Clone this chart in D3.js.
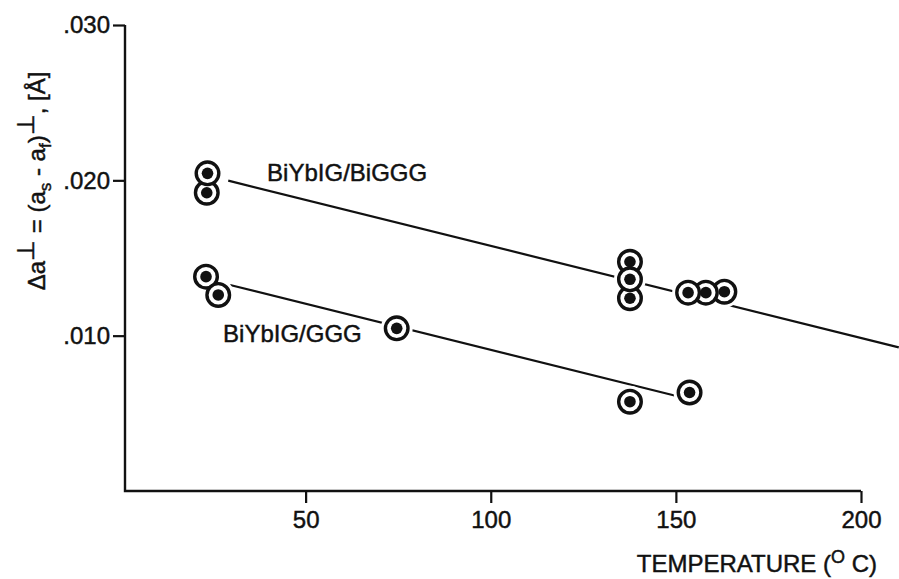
<!DOCTYPE html>
<html>
<head>
<meta charset="utf-8">
<script src="https://cdn.jsdelivr.net/npm/d3@7"></script>
<style>
  body { margin: 0; background: #fff; }
  svg { display: block; font-family: "Liberation Sans", Arial, Helvetica, sans-serif; }
  svg text { stroke: #111; stroke-width: 0.45px; }
</style>
</head>
<body>
<div id="chart"></div>
<script>
// temperature (deg C) and Δa⊥ (Å)
const bigggTemp = [23.3, 23.5, 137.6, 137.6, 137.6, 163.1, 158.1, 153.3];
const bigggDa   = [0.01920, 0.02045, 0.01476, 0.01241, 0.01363, 0.01283, 0.01277, 0.01277];
const gggTemp   = [23.1, 26.4, 74.6, 137.6, 153.7];
const gggDa     = [0.01380, 0.01262, 0.01047, 0.00575, 0.00634];

// hand drawn fit lines (end points)
const bigggFitTemp = [29.1, 210.2];
const bigggFitDa   = [0.01998, 0.00925];
const gggFitTemp   = [29.6, 153.7];
const gggFitDa     = [0.01326, 0.00591];

const seriesNames = ['BiYbIG/BiGGG', 'BiYbIG/GGG'];
const labelTemp = [39.6, 27.7];
const labelDa   = [0.01998, 0.00962];

const xTicks = [50, 100, 150, 200];
const xTickLabels = ['50', '100', '150', '200'];
const yTicks = [0.010, 0.020, 0.030];
const yTickLabels = ['.010', '.020', '.030'];

const width = 899, height = 579;
const axisX = 125;

const svg = d3.select('#chart').append('svg')
  .attr('width', width)
  .attr('height', height);

const x = d3.scaleLinear().domain([0, 200]).range([120.5, 861]);
const y = d3.scaleLinear().domain([0, 0.030]).range([491, 25]);

// y axis
const yAxis = svg.append('g')
  .attr('transform', `translate(${axisX},0)`)
  .call(d3.axisLeft(y)
    .tickValues(yTicks)
    .tickFormat((d, i) => yTickLabels[i])
    .tickSize(12)
    .tickSizeOuter(0)
    .tickPadding(3));
yAxis.select('.domain').remove();
yAxis.selectAll('line').attr('stroke', '#111').attr('stroke-width', 2.2);
yAxis.selectAll('text').attr('font-size', 24).attr('fill', '#111').attr('font-family', null);

// x axis
const xAxis = svg.append('g')
  .attr('transform', `translate(0,${y(0)})`)
  .call(d3.axisBottom(x)
    .tickValues(xTicks)
    .tickFormat((d, i) => xTickLabels[i])
    .tickSize(12)
    .tickSizeOuter(0)
    .tickPadding(8));
xAxis.select('.domain').remove();
xAxis.selectAll('line').attr('stroke', '#111').attr('stroke-width', 2.2);
xAxis.selectAll('text').attr('font-size', 24).attr('fill', '#111').attr('font-family', null);

// axis frame lines
svg.append('path')
  .attr('d', `M${axisX},${y(0.030)}V${y(0)}H${x(200)}`)
  .attr('fill', 'none')
  .attr('stroke', '#111')
  .attr('stroke-width', 2.4);

// fit lines
const line = d3.line().x(d => x(d[0])).y(d => y(d[1]));
const fits = [
  d3.zip(bigggFitTemp, bigggFitDa),
  d3.zip(gggFitTemp, gggFitDa)
];
svg.append('g').selectAll('path')
  .data(fits)
  .join('path')
  .attr('d', line)
  .attr('fill', 'none')
  .attr('stroke', '#111')
  .attr('stroke-width', 2.2);

const points = d3.zip(bigggTemp, bigggDa).concat(d3.zip(gggTemp, gggDa));

// white gaps in the lines around the markers
svg.append('g').selectAll('circle')
  .data(points)
  .join('circle')
  .attr('cx', d => x(d[0]))
  .attr('cy', d => y(d[1]))
  .attr('r', 16)
  .attr('fill', '#fff');

// markers: ring with black dot
const marks = svg.append('g').selectAll('g')
  .data(points)
  .join('g')
  .attr('transform', d => `translate(${x(d[0])},${y(d[1])})`);
marks.append('circle')
  .attr('r', 11.3)
  .attr('fill', '#fff')
  .attr('stroke', '#111')
  .attr('stroke-width', 3.4);
marks.append('circle')
  .attr('r', 5.8)
  .attr('fill', '#111');

// series labels
svg.append('g').selectAll('text')
  .data(seriesNames)
  .join('text')
  .attr('x', (d, i) => x(labelTemp[i]))
  .attr('y', (d, i) => y(labelDa[i]))
  .attr('font-size', 24)
  .attr('fill', '#111')
  .text(d => d);

// x axis title
const xt = svg.append('text')
  .attr('x', 877)
  .attr('y', 572)
  .attr('text-anchor', 'end')
  .attr('font-size', 24)
  .attr('fill', '#111');
xt.append('tspan').text('TEMPERATURE  (');
xt.append('tspan').attr('dy', -9).attr('font-size', 18).text('O');
xt.append('tspan').attr('dy', 9).text(' C)');

// y axis title
const yt = svg.append('text')
  .attr('transform', 'translate(45,181) rotate(-90)')
  .attr('text-anchor', 'middle')
  .attr('font-size', 24)
  .attr('fill', '#111');
yt.append('tspan').text('Δa');
yt.append('tspan').attr('dy', -11).text('⊥');
yt.append('tspan').attr('dy', 11).text(' = (a');
yt.append('tspan').attr('dy', 6).attr('font-size', 17).text('s');
yt.append('tspan').attr('dy', -6).text(' - a');
yt.append('tspan').attr('dy', 6).attr('font-size', 17).text('f');
yt.append('tspan').attr('dy', -6).text(')');
yt.append('tspan').attr('dy', -11).text('⊥');
yt.append('tspan').attr('dy', 11).text(', [Å]');
</script>
</body>
</html>
